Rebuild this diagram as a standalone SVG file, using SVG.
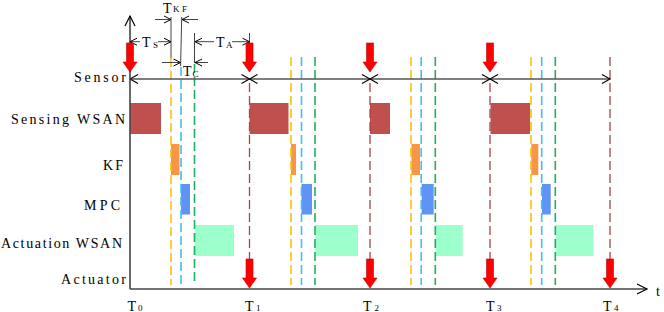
<svg xmlns="http://www.w3.org/2000/svg" width="664" height="312" viewBox="0 0 664 312">
<style>
text{font-family:"Liberation Serif","Times New Roman",serif;fill:#000}
.lbl{font-size:14px}
.sub{font-size:9px}
.g{stroke:#555;stroke-width:1.3;fill:none}
.ann{stroke:#444;stroke-width:1;fill:none}
.ax{stroke:#444;stroke-width:1.6;fill:none}
.dy{stroke:#FFC000;stroke-width:1.6;stroke-dasharray:9 4;fill:none}
.db{stroke:#3EC0F0;stroke-width:1.6;stroke-dasharray:9 4;fill:none}
.dg{stroke:#22B060;stroke-width:1.6;stroke-dasharray:9 4;fill:none}
.dr{stroke:#A84444;stroke-width:1.3;stroke-dasharray:9 4;fill:none}
.sens{fill:#C0504D}
.kf{fill:#F79646}
.mpc{fill:#5F93F5}
.act{fill:#9CFFCC}
.ra{fill:#FF0000;stroke:#C00000;stroke-width:0.6}
</style>
<defs>
<marker id="ch" markerUnits="userSpaceOnUse" markerWidth="10" markerHeight="10" refX="8" refY="4.5" orient="auto-start-reverse" overflow="visible"><path d="M0,0 L8,4.5 L0,9" fill="none" stroke="#000" stroke-width="1.1"/></marker>
<marker id="sm" markerUnits="userSpaceOnUse" markerWidth="8" markerHeight="8" refX="7" refY="3.5" orient="auto-start-reverse" overflow="visible"><path d="M0,0 L7,3.5 L0,7" fill="none" stroke="#000" stroke-width="1"/></marker>
<marker id="axh" markerUnits="userSpaceOnUse" markerWidth="12" markerHeight="12" refX="10" refY="5" orient="auto" overflow="visible"><path d="M0,0 L10,5 L0,10" fill="none" stroke="#000" stroke-width="1.2"/></marker>
<polygon id="arrow" points="-3.5,0 3.5,0 3.5,19 7,19 0,29 -7,19 -3.5,19"/>
</defs>

<g id="labels">
<text class="lbl" x="74" y="82" textLength="52" lengthAdjust="spacing">Sensor</text>
<text class="lbl" x="11" y="124" textLength="114" lengthAdjust="spacing">Sensing WSAN</text>
<text class="lbl" x="103" y="170" textLength="20" lengthAdjust="spacing">KF</text>
<text class="lbl" x="84" y="210" textLength="36" lengthAdjust="spacing">MPC</text>
<text class="lbl" x="1" y="248" textLength="121" lengthAdjust="spacing">Actuation WSAN</text>
<text class="lbl" x="61" y="284" textLength="65" lengthAdjust="spacing">Actuator</text>
</g>

<g id="time-labels">
<text class="lbl" x="127.5" y="310.5">T</text><text class="sub" x="138" y="310.5">0</text>
<text class="lbl" x="245" y="310.5">T</text><text class="sub" x="256" y="310.5">1</text>
<text class="lbl" x="363" y="310.5">T</text><text class="sub" x="374.5" y="310.5">2</text>
<text class="lbl" x="486" y="310.5">T</text><text class="sub" x="497" y="310.5">3</text>
<text class="lbl" x="603" y="310.5">T</text><text class="sub" x="614" y="310.5">4</text>
<text class="lbl" x="656" y="296">t</text>
</g>

<g id="bars">
<rect class="sens" x="130" y="103" width="31" height="31"/>
<rect class="sens" x="249.5" y="103" width="39" height="31"/>
<rect class="sens" x="370" y="103" width="20" height="31"/>
<rect class="sens" x="490.5" y="103" width="39.5" height="31"/>
<rect class="kf" x="171" y="144" width="8.5" height="31"/>
<rect class="kf" x="291" y="144" width="5" height="31"/>
<rect class="kf" x="411.5" y="144" width="8.5" height="31"/>
<rect class="kf" x="531.3" y="144" width="7" height="31"/>
<rect class="mpc" x="181" y="184" width="9" height="30.5"/>
<rect class="mpc" x="301.5" y="184" width="10.5" height="30.5"/>
<rect class="mpc" x="421.7" y="184" width="12" height="30.5"/>
<rect class="mpc" x="542" y="184" width="8.7" height="30.5"/>
<rect class="act" x="195" y="225" width="39" height="31"/>
<rect class="act" x="315.3" y="225" width="42.7" height="31"/>
<rect class="act" x="435.7" y="225" width="27" height="31"/>
<rect class="act" x="555.7" y="225" width="37.6" height="31"/>
</g>

<g id="connectors">
<line class="dy" x1="171" y1="58" x2="171" y2="285"/>
<line class="db" x1="181" y1="67" x2="181" y2="285"/>
<line class="dg" x1="194.5" y1="64" x2="194.5" y2="285"/>
<line class="dy" x1="291" y1="57" x2="291" y2="285"/>
<line class="db" x1="301.5" y1="57" x2="301.5" y2="285"/>
<line class="dg" x1="315" y1="57" x2="315" y2="285"/>
<line class="dy" x1="411" y1="57" x2="411" y2="285"/>
<line class="db" x1="421.2" y1="57" x2="421.2" y2="285"/>
<line class="dg" x1="435.3" y1="57" x2="435.3" y2="285"/>
<line class="dy" x1="531" y1="57" x2="531" y2="285"/>
<line class="db" x1="541.7" y1="57" x2="541.7" y2="285"/>
<line class="dg" x1="555.3" y1="57" x2="555.3" y2="285"/>
<line class="dr" x1="249.5" y1="83" x2="249.5" y2="259"/>
<line class="dr" x1="370" y1="83" x2="370" y2="259"/>
<line class="dr" x1="490" y1="83" x2="490" y2="259"/>
<line class="dr" x1="610" y1="57" x2="610" y2="259"/>

<line class="g" x1="130" y1="79" x2="249.5" y2="79" marker-start="url(#ch)" marker-end="url(#ch)"/>
<line class="g" x1="249.5" y1="79" x2="370" y2="79" marker-start="url(#ch)" marker-end="url(#ch)"/>
<line class="g" x1="370" y1="79" x2="490" y2="79" marker-start="url(#ch)" marker-end="url(#ch)"/>
<line class="g" x1="490" y1="79" x2="610" y2="79" marker-start="url(#ch)" marker-end="url(#ch)"/>

<line class="ax" x1="130" y1="289" x2="130" y2="16" marker-end="url(#axh)"/>
<line class="ax" x1="130" y1="289" x2="647" y2="289" marker-end="url(#axh)"/>

<line class="ann" x1="171" y1="17" x2="171" y2="58"/>
<line class="ann" x1="181.7" y1="17" x2="180.6" y2="66"/>
<line class="ann" x1="194.5" y1="33" x2="194.5" y2="63"/>
<line class="ann" x1="249.5" y1="33" x2="249.5" y2="43"/>
<line class="ann" x1="140" y1="41.7" x2="130" y2="41.7" marker-end="url(#sm)"/>
<line class="ann" x1="158" y1="41.7" x2="171" y2="41.7" marker-end="url(#sm)"/>
<line class="ann" x1="214" y1="41.7" x2="195" y2="41.7" marker-end="url(#sm)"/>
<line class="ann" x1="232" y1="41.7" x2="249.5" y2="41.7" marker-end="url(#sm)"/>
<line class="ann" x1="155" y1="19.5" x2="171" y2="19.5" marker-end="url(#sm)"/>
<line class="ann" x1="198" y1="19.5" x2="182" y2="19.5" marker-end="url(#sm)"/>
<line class="ann" x1="162" y1="62.5" x2="180.5" y2="62.5" marker-end="url(#sm)"/>
<line class="ann" x1="208" y1="62.5" x2="195" y2="62.5" marker-end="url(#sm)"/>
</g>

<g id="annotations">
<text class="lbl" x="163" y="13">T</text><text class="sub" x="173" y="11.5" textLength="14" lengthAdjust="spacing">KF</text>
<text class="lbl" x="142" y="47">T</text><text class="sub" x="153" y="48">S</text>
<text class="lbl" x="216" y="47">T</text><text class="sub" x="226" y="48">A</text>
<text class="lbl" x="183" y="76">T</text><text class="sub" x="192.5" y="77">C</text>
</g>

<g id="sensor-arrows">
<use href="#arrow" class="ra" x="130" y="43"/>
<use href="#arrow" class="ra" x="249.5" y="43"/>
<use href="#arrow" class="ra" x="370" y="43"/>
<use href="#arrow" class="ra" x="490" y="43"/>
</g>
<g id="actuator-arrows">
<use href="#arrow" class="ra" x="249.5" y="259"/>
<use href="#arrow" class="ra" x="370" y="259"/>
<use href="#arrow" class="ra" x="490" y="259"/>
<use href="#arrow" class="ra" x="610" y="259"/>
</g>
</svg>
